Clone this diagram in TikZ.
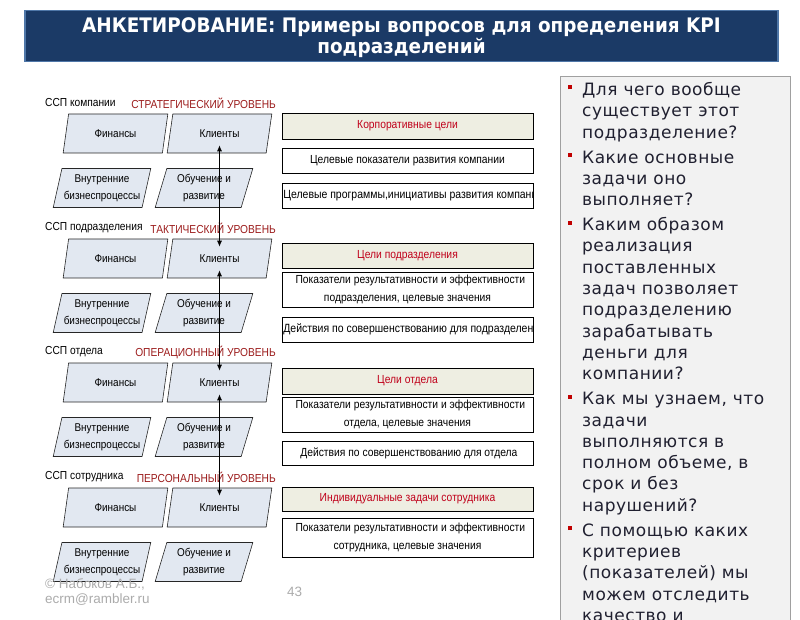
\documentclass[tikz,border=0pt]{standalone}
\usepackage{fontspec}
\usetikzlibrary{shapes.geometric,arrows.meta}
\setmainfont{Liberation Sans}
\newfontfamily\nar[FakeStretch=0.88]{Liberation Sans}
\newfontfamily\ttl[FakeStretch=0.92]{DejaVu Sans}
\newfontfamily\dv[LetterSpace=3]{DejaVu Sans}
\definecolor{titlebg}{HTML}{1B3A66}
\definecolor{titleborder}{HTML}{4F77A8}
\definecolor{panelbg}{HTML}{F2F2F2}
\definecolor{panelborder}{HTML}{A0A0A0}
\definecolor{parafill}{HTML}{E2E8F1}
\definecolor{beige}{HTML}{EEEEE2}
\definecolor{boxred}{HTML}{C0001A}
\definecolor{headred}{HTML}{9B1B1B}
\definecolor{bulred}{HTML}{C00000}
\definecolor{qtext}{HTML}{202030}
\definecolor{foot}{HTML}{ABABAB}
\newcommand\bul{\makebox[0pt][r]{\textcolor{bulred}{\rule[6pt]{4pt}{4pt}}\hspace{10pt}}}
\begin{document}
\begin{tikzpicture}[x=1pt,y=-1pt,
  para/.style={trapezium, trapezium left angle=73, trapezium right angle=107,
    trapezium stretches=true, draw=black!85, fill=parafill, line width=0.6pt,
    minimum height=39pt, inner sep=0pt, align=center,
    font=\nar\fontsize{11.3}{17}\selectfont},
  rowone/.style={para, minimum width=105pt},
  rowtwo/.style={para, minimum width=98pt},
  mbox/.style={draw=black, line width=0.7pt, minimum width=251pt, inner sep=0pt,
    align=center, font=\nar\fontsize{11.7}{18}\selectfont},
  goal/.style={mbox, fill=beige, text=boxred},
  lvl/.style={anchor=west, inner sep=0pt, font=\nar\fontsize{11.6}{13}\selectfont},
  lvlred/.style={anchor=east, inner sep=0pt, text=headred, font=\nar\fontsize{11.6}{13}\selectfont},
  arr/.style={{Latex[length=6pt,width=5pt]}-{Latex[length=6pt,width=5pt]}, line width=0.8pt},
  foottxt/.style={anchor=west, inner sep=0pt, text=foot, font=\fontsize{13.5}{15}\selectfont}
]
\useasboundingbox (0,0) rectangle (800,620);
\clip (0,0) rectangle (800,620);
% title
\node[draw=titleborder, line width=1.5pt, fill=titlebg, minimum width=753pt, minimum height=51pt,
  inner sep=0pt] (tbar) at (401.5,36) {};
\node[text=white, align=center, inner sep=0pt, font=\ttl\bfseries\fontsize{20}{21}\selectfont]
  (title) at ([yshift=-1.5pt]tbar.center) {АНКЕТИРОВАНИЕ: Примеры вопросов для определения KPI\\подразделений};
% right panel
\node[draw=panelborder, fill=panelbg, line width=0.8pt, anchor=north west, minimum width=230pt,
  minimum height=560pt, inner sep=0pt] (panel) at (560,76) {};
\node[anchor=north west, align=left, inner sep=0pt, text=qtext,
  font=\dv\fontsize{17}{21.3}\selectfont] (qs) at (582,82) {%
\bul Для чего вообще\\ существует этот\\ подразделение?\\[3.7pt]
\bul Какие основные\\ задачи оно\\ выполняет?\\[3.7pt]
\bul Каким образом\\ реализация\\ поставленных\\ задач позволяет\\ подразделению\\ зарабатывать\\ деньги для\\ компании?\\[3.7pt]
\bul Как мы узнаем, что\\ задачи\\ выполняются в\\ полном объеме, в\\ срок и без\\ нарушений?\\[3.7pt]
\bul С помощью каких\\ критериев\\ (показателей) мы\\ можем отследить\\ качество и};
% level headers
\node[lvl] (h1) at (45,103) {ССП компании};
\node[lvlred] (r1) at (276,103) {СТРАТЕГИЧЕСКИЙ УРОВЕНЬ};
\node[lvl] (h2) at (45,228) {ССП подразделения};
\node[lvlred] (r2) at (276,228) {ТАКТИЧЕСКИЙ УРОВЕНЬ};
\node[lvl] (h3) at (45,352) {ССП отдела};
\node[lvlred] (r3) at (276,352) {ОПЕРАЦИОННЫЙ УРОВЕНЬ};
\node[lvl] (h4) at (45,477) {ССП сотрудника};
\node[lvlred] (r4) at (276,477) {ПЕРСОНАЛЬНЫЙ УРОВЕНЬ};
% parallelograms
\foreach \i/\y in {1/103,2/228,3/352,4/477}{
  \node[rowone] (f\i) at (115.5,\y+30.5) {Финансы};
  \node[rowone] (k\i) at (219.5,\y+30.5) {Клиенты};
  \node[rowtwo] (b\i) at (102,\y+85) {Внутренние\\бизнеспроцессы};
  \node[rowtwo] (o\i) at (204,\y+85) {Обучение и\\развитие};
}
% level 1 boxes
\node[goal, minimum height=26pt] (g1) at (407.5,126) {Корпоративные цели};
\node[mbox, minimum height=25pt] (t1) at (407.5,160.5) {Целевые показатели развития компании};
\node[mbox, minimum height=25pt] (p1) at (407.5,195.5) {};
\begin{scope}
\clip (p1.south west) rectangle (p1.north east);
\node[anchor=west, inner sep=0pt, font=\nar\fontsize{11.9}{13}\selectfont] (p1t) at ([xshift=1.5pt]p1.west) {Целевые программы,инициативы развития компании};
\end{scope}
% level 2 boxes
\node[goal, minimum height=25pt] (g2) at (407.5,255.5) {Цели подразделения};
\node[mbox, minimum height=35pt] (t2) at (407.5,289.5) {\ \ Показатели результативности и эффективности\\подразделения, целевые значения};
\node[mbox, minimum height=25pt] (p2) at (407.5,329.5) {};
\begin{scope}
\clip (p2.south west) rectangle (p2.north east);
\node[anchor=west, inner sep=0pt, font=\nar\fontsize{11.9}{13}\selectfont] (p2t) at ([xshift=1.5pt]p2.west) {Действия по совершенствованию для подразделения};
\end{scope}
% level 3 boxes
\node[goal, minimum height=26pt] (g3) at (407.5,381) {Цели отдела};
\node[mbox, minimum height=35pt] (t3) at (407.5,414.5) {\ \ Показатели результативности и эффективности\\отдела, целевые значения};
\node[mbox, minimum height=24pt] (d3) at (407.5,453) {\ Действия по совершенствованию для отдела};
% level 4 boxes
\node[goal, minimum height=24pt] (g4) at (407.5,499) {Индивидуальные задачи сотрудника};
\node[mbox, minimum height=39pt] (t4) at (407.5,537.5) {\ \ Показатели результативности и эффективности\\сотрудника, целевые значения};
% arrows
\draw[arr] ([yshift=8pt]k1.south) -- ([yshift=-8pt]k2.north);
\draw[arr] ([yshift=8pt]k2.south) -- ([yshift=-8pt]k3.north);
\draw[arr] ([yshift=8pt]k3.south) -- ([yshift=-8pt]k4.north);
% footer
\node[foottxt] (c1) at (45,584) {© Набоков А.Б.,};
\node[foottxt] (c2) at (45,600) {ecrm@rambler.ru};
\node[foottxt] (pg) at (287,592) {43};
\end{tikzpicture}
\end{document}
